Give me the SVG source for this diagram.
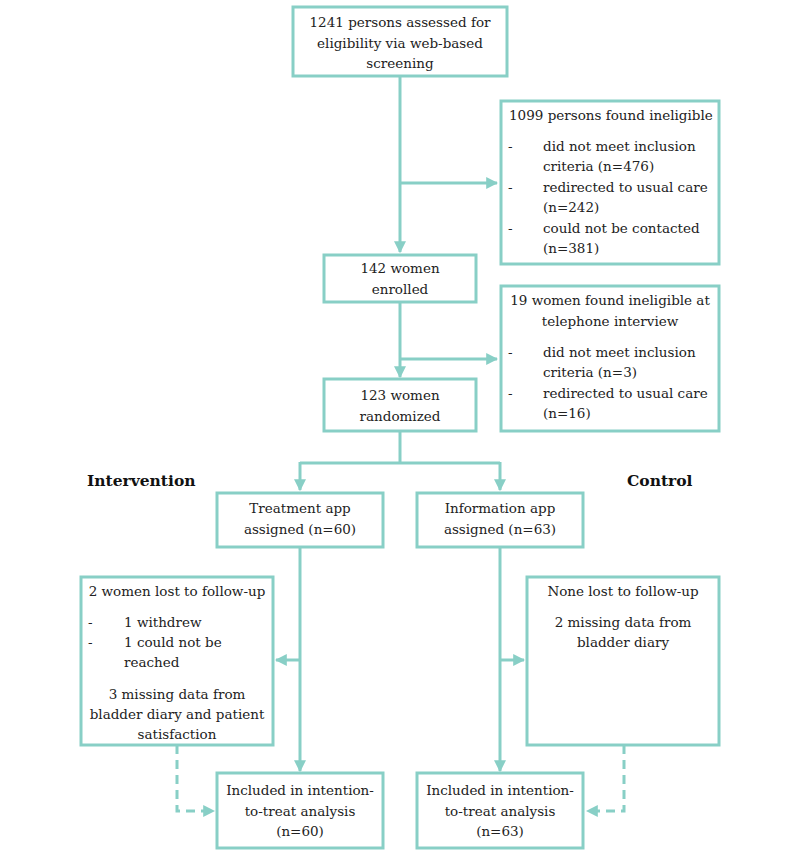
<svg xmlns="http://www.w3.org/2000/svg" width="800" height="853" viewBox="0 0 800 853">
<defs>
<style>
.box{fill:#fff;stroke:#88cfc6;stroke-width:3}
.ln{fill:none;stroke:#88cfc6;stroke-width:3}
.dash{fill:none;stroke:#88cfc6;stroke-width:3;stroke-dasharray:9 6}
text{font-family:"DejaVu Serif","Liberation Serif",serif;font-size:13.5px;fill:#222}
.c{text-anchor:middle}
.b{font-weight:bold;font-size:15.5px;fill:#111}
</style>
<marker id="ah" viewBox="0 0 10 10" refX="9" refY="5" markerWidth="4" markerHeight="4" orient="auto" markerUnits="strokeWidth">
<path d="M0,0 L10,5 L0,10 z" fill="#88cfc6"/>
</marker>
</defs>
<rect width="800" height="853" fill="#fff"/>
<g id="connectors">
<path class="ln" d="M400,76 V252" marker-end="url(#ah)"/>
<path class="ln" d="M400,183 H497" marker-end="url(#ah)"/>
<path class="ln" d="M400,302 V377" marker-end="url(#ah)"/>
<path class="ln" d="M400,359 H497" marker-end="url(#ah)"/>
<path class="ln" d="M400,431 V463"/>
<path class="ln" d="M300,463 H500"/>
<path class="ln" d="M300,462 V490" marker-end="url(#ah)"/>
<path class="ln" d="M500,462 V490" marker-end="url(#ah)"/>
<path class="ln" d="M300,547 V771" marker-end="url(#ah)"/>
<path class="ln" d="M300,660 H276" marker-end="url(#ah)"/>
<path class="ln" d="M500,547 V771" marker-end="url(#ah)"/>
<path class="ln" d="M500,660 H524" marker-end="url(#ah)"/>
<path class="dash" d="M177,745 V811 H214" marker-end="url(#ah)"/>
<path class="dash" d="M624,745 V811 H587" marker-end="url(#ah)"/>
</g>
<g id="assessed">
<rect class="box" x="293" y="7" width="214" height="69"/>
<text class="c" x="400" y="27">1241 persons assessed for</text>
<text class="c" x="400" y="48">eligibility  via web-based</text>
<text class="c" x="400" y="68">screening</text>
</g>
<g id="ineligible1">
<rect class="box" x="501" y="101" width="218" height="163"/>
<text x="509" y="120">1099 persons found ineligible</text>
<text x="508" y="151">-</text><text x="543" y="151">did not meet inclusion</text>
<text x="543" y="171">criteria (n=476)</text>
<text x="508" y="192">-</text><text x="543" y="192">redirected to usual care</text>
<text x="543" y="212">(n=242)</text>
<text x="508" y="233">-</text><text x="543" y="233">could not be contacted</text>
<text x="543" y="253">(n=381)</text>
</g>
<g id="enrolled">
<rect class="box" x="324" y="255" width="152" height="47"/>
<text class="c" x="400" y="273">142 women</text>
<text class="c" x="400" y="294">enrolled</text>
</g>
<g id="ineligible2">
<rect class="box" x="501" y="286" width="218" height="145"/>
<text class="c" x="610" y="305">19 women found ineligible at</text>
<text class="c" x="610" y="326">telephone interview</text>
<text x="508" y="357">-</text><text x="543" y="357">did not meet inclusion</text>
<text x="543" y="377">criteria (n=3)</text>
<text x="508" y="398">-</text><text x="543" y="398">redirected to usual care</text>
<text x="543" y="418">(n=16)</text>
</g>
<g id="randomized">
<rect class="box" x="324" y="379" width="152" height="52"/>
<text class="c" x="400" y="400">123 women</text>
<text class="c" x="400" y="421">randomized</text>
</g>
<g id="labels">
<text class="b" x="87" y="486">Intervention</text>
<text class="b" x="627" y="486">Control</text>
</g>
<g id="treatment">
<rect class="box" x="217" y="493" width="166" height="54"/>
<text class="c" x="300" y="513">Treatment app</text>
<text class="c" x="300" y="534">assigned (n=60)</text>
</g>
<g id="information">
<rect class="box" x="417" y="493" width="166" height="54"/>
<text class="c" x="500" y="513">Information app</text>
<text class="c" x="500" y="534">assigned (n=63)</text>
</g>
<g id="lost-left">
<rect class="box" x="81" y="577" width="192" height="168"/>
<text class="c" x="177" y="596">2 women lost to follow-up</text>
<text x="88" y="627">-</text><text x="124" y="627">1 withdrew</text>
<text x="88" y="647">-</text><text x="124" y="647">1 could not be</text>
<text x="124" y="667">reached</text>
<text class="c" x="177" y="699">3 missing data from</text>
<text class="c" x="177" y="719">bladder diary and patient</text>
<text class="c" x="177" y="739">satisfaction</text>
</g>
<g id="lost-right">
<rect class="box" x="527" y="577" width="192" height="168"/>
<text class="c" x="623" y="596">None lost to follow-up</text>
<text class="c" x="623" y="627">2 missing data from</text>
<text class="c" x="623" y="647">bladder diary</text>
</g>
<g id="itt-left">
<rect class="box" x="217" y="773" width="166" height="75"/>
<text class="c" x="300" y="795">Included in intention-</text>
<text class="c" x="300" y="816">to-treat analysis</text>
<text class="c" x="300" y="836">(n=60)</text>
</g>
<g id="itt-right">
<rect class="box" x="417" y="773" width="166" height="75"/>
<text class="c" x="500" y="795">Included in intention-</text>
<text class="c" x="500" y="816">to-treat analysis</text>
<text class="c" x="500" y="836">(n=63)</text>
</g>
</svg>
